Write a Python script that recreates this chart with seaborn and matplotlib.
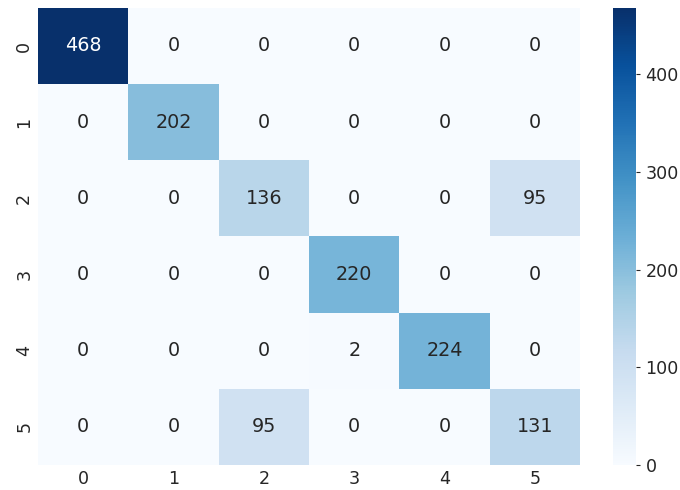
import numpy as np
import pandas as pd
import matplotlib
matplotlib.use("Agg")
import matplotlib.pyplot as plt
import seaborn as sns

labels = ["0", "1", "2", "3", "4", "5"]
row0 = [468, 0, 0, 0, 0, 0]
row1 = [0, 202, 0, 0, 0, 0]
row2 = [0, 0, 136, 0, 0, 95]
row3 = [0, 0, 0, 220, 0, 0]
row4 = [0, 0, 0, 2, 224, 0]
row5 = [0, 0, 95, 0, 0, 131]

cm = pd.DataFrame([row0, row1, row2, row3, row4, row5], index=labels, columns=labels)

sns.set(font_scale=1.15)
fig = plt.figure(figsize=(6.8, 4.9), dpi=100)
ax = fig.add_axes([0.056, 0.051, 0.797, 0.933])
cax = fig.add_axes([0.901, 0.051, 0.035, 0.933])
sns.heatmap(cm, annot=True, fmt="d", cmap="Blues", ax=ax, cbar_ax=cax)
ax.tick_params(axis="both", length=0)
cax.tick_params(axis="y", length=3, width=0.8, color="#262626")
fig.savefig("out.png", dpi=100)
